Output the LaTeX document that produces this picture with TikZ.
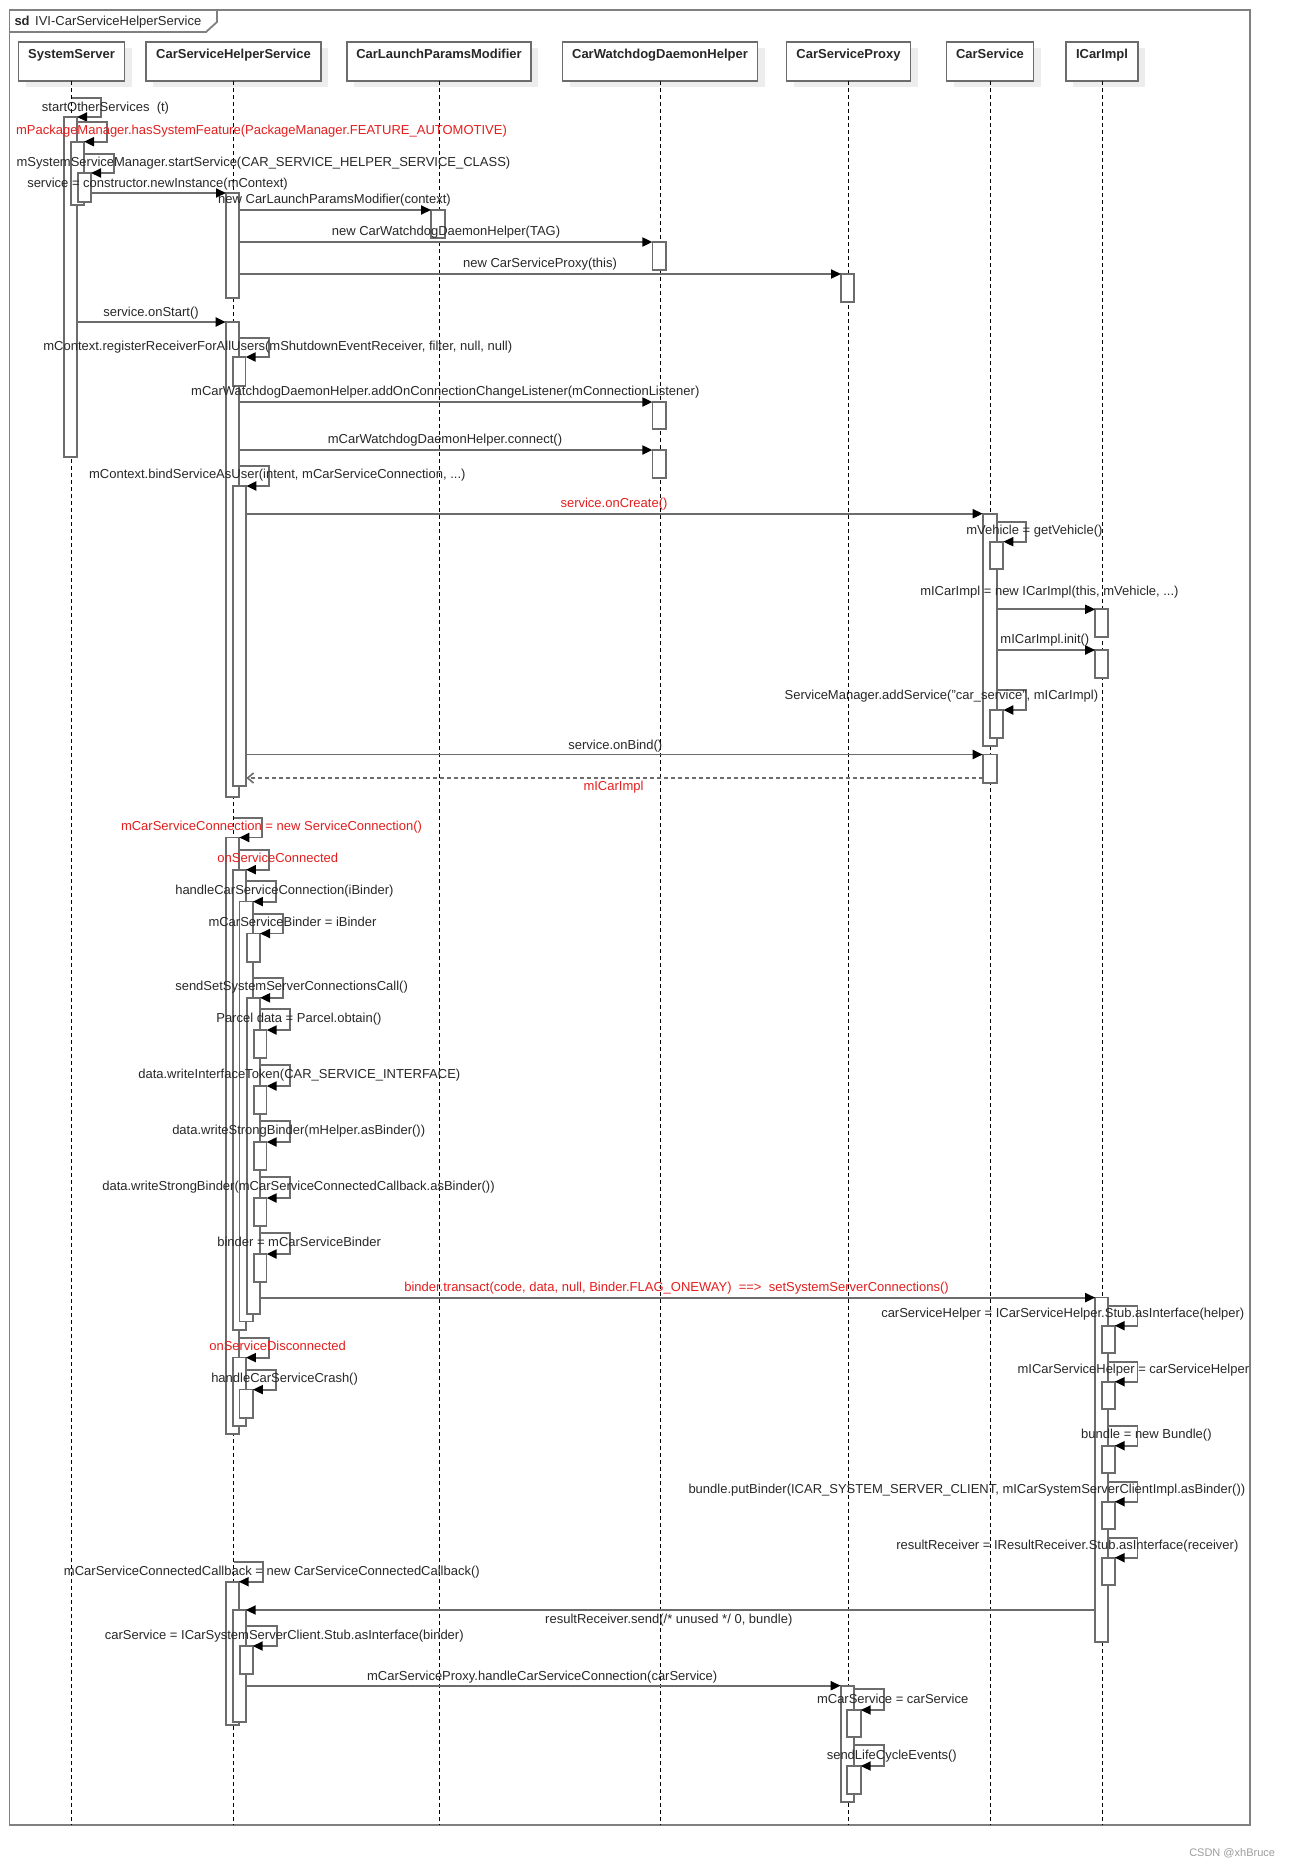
\documentclass[tikz,border=0pt]{standalone}
\usepackage{fontspec}
\setmainfont{Liberation Sans}
\usetikzlibrary{arrows.meta,shadows}
\definecolor{ln}{RGB}{108,108,108}
\definecolor{tx}{RGB}{40,40,40}
\definecolor{rd}{RGB}{228,30,30}
\newcommand\actbar[5]{\node[actb, anchor=north west, minimum width={#4-#2}, minimum height={#5-#3}] (#1) at (#2,#3) {};}
\newcommand\msgarrow[3]{\draw[msgl] (#1.east |- 0,#3) -- (#2.west |- 0,#3);}
\newcommand\loopm[4]{\draw[msgl] (#1 |- 0,#3) -- (#4,#3) |- (#2.north east);}
\newcommand\txtlab[4]{\node[lbl, anchor=base] (#1) at (#2,#3+4.2) {#4};}
\newcommand\redlab[4]{\node[lbl, text=rd, anchor=base] (#1) at (#2,#3+4.2) {#4};}
\begin{document}
\begin{tikzpicture}[x=1pt,y=-1pt,
  font=\fontsize{13}{15}\selectfont,
  head/.style={draw=ln, line width=1.7pt, fill=white, inner sep=0pt, outer sep=0pt,
    text height=17pt, text depth=22.3pt, anchor=north west, text=tx,
    font=\fontsize{13}{15}\selectfont\bfseries,
    drop shadow={shadow xshift=7pt, shadow yshift=-6pt, fill=black!7, opacity=1}},
  actb/.style={draw=ln, line width=1.7pt, fill=white, inner sep=0pt, outer sep=0pt},
  msgl/.style={draw=ln, line width=1.9pt, -{Triangle[length=10pt,width=9pt,color=black]}},
  ret/.style={draw=ln, line width=1.6pt, dash pattern=on 4pt off 3pt, -{Straight Barb[length=6pt,width=10pt]}},
  life/.style={draw=black, line width=0.9pt, dash pattern=on 4pt off 3pt},
  frame/.style={draw=black!50, line width=1.8pt},
  lbl/.style={text=tx, inner sep=0pt, outer sep=0pt}]
\fill[white] (0,0) rectangle (1290,1866);
\useasboundingbox (0,0) rectangle (1290,1866);
% frame
\draw[frame] (9.5,10) rectangle (1250.3,1825);
\draw[frame] (217,10) -- (217,22) -- (206,32) -- (9.5,32);
\node[lbl, anchor=base west] (title) at (14.5,25.3) {\textbf{sd}\hspace{5.5pt}IVI-CarServiceHelperService};
% headers
\node[head, minimum width=106pt] (SS) at (18.5,41.7) {SystemServer};
\node[head, minimum width=175pt] (CSHS) at (146,41.7) {CarServiceHelperService};
\node[head, minimum width=184pt] (CLPM) at (347,41.7) {CarLaunchParamsModifier};
\node[head, minimum width=195pt] (CWDH) at (562.5,41.7) {CarWatchdogDaemonHelper};
\node[head, minimum width=124pt] (CSP) at (786.5,41.7) {CarServiceProxy};
\node[head, minimum width=87pt] (CS) at (946.5,41.7) {CarService};
\node[head, minimum width=71.5pt] (IC) at (1066.25,41.7) {ICarImpl};
% lifelines
\foreach \h in {SS,CSHS,CLPM,CWDH,CSP,CS,IC}{\draw[life] (\h.south) -- (\h.south |- 0,1825);}
% activation bars
\actbar{ss1}{64}{117}{77}{457}
\actbar{ss2}{70.7}{141.7}{84}{205}
\actbar{ss3}{78}{173}{91}{202}
\actbar{h1}{226}{193}{239}{298}
\actbar{lp1}{431}{210}{445}{238}
\actbar{cw1}{652.4}{242}{665.7}{270}
\actbar{px1}{841}{274}{854.3}{302}
\actbar{h2}{225.7}{322}{239.3}{797.3}
\actbar{h3}{232.7}{357}{245.6}{385.7}
\actbar{cw2}{652.4}{402}{665.7}{429}
\actbar{cw3}{652.4}{450}{665.7}{477.7}
\actbar{h4}{232.7}{486}{246.3}{785.7}
\actbar{cs1}{982.7}{513.7}{996.7}{745.7}
\actbar{cs2}{989.7}{541.7}{1003.3}{569.3}
\actbar{ic1}{1095.2}{609.3}{1108}{637.3}
\actbar{ic2}{1095.2}{650}{1108}{677.7}
\actbar{cs3}{989.7}{710}{1003.3}{738}
\actbar{cs4}{982.7}{754.5}{996.7}{783}
\actbar{c1}{225.7}{837.5}{239.3}{1434.3}
\actbar{c2}{232.7}{869.7}{245.9}{1329.8}
\actbar{c3}{239.6}{901.6}{252.9}{1321.6}
\actbar{c4}{246.7}{933.5}{260}{961.7}
\actbar{c5}{246.7}{997.8}{260}{1314}
\actbar{p1}{253.7}{1030}{266.6}{1057.9}
\actbar{p2}{253.7}{1086}{266.6}{1113.8}
\actbar{p3}{253.7}{1142}{266.6}{1169.8}
\actbar{p4}{253.7}{1198}{266.6}{1225.8}
\actbar{p5}{253.7}{1254}{266.6}{1281.7}
\actbar{d1}{232.7}{1357.6}{245.9}{1426}
\actbar{d2}{239.6}{1389.6}{252.9}{1417.7}
\actbar{e0}{1095.2}{1297.6}{1108}{1641.7}
\actbar{e1}{1101.9}{1325.7}{1114.7}{1353.3}
\actbar{e2}{1101.9}{1381.7}{1114.7}{1409.3}
\actbar{e3}{1101.9}{1445.7}{1114.7}{1473.3}
\actbar{e4}{1101.9}{1501.7}{1114.7}{1529.3}
\actbar{e5}{1101.9}{1557.7}{1114.7}{1585}
\actbar{f1}{225.7}{1581.7}{238.7}{1725}
\actbar{f2}{232.7}{1610}{245.7}{1722.3}
\actbar{f3}{239.7}{1646}{252.7}{1674}
\actbar{g1}{840.7}{1685.7}{854.3}{1802.3}
\actbar{g2}{847.3}{1710}{860.7}{1737.3}
\actbar{g3}{847.3}{1766}{860.7}{1794}
% messages
\msgarrow{ss3}{h1}{193}
\msgarrow{h1}{lp1}{210}
\msgarrow{h1}{cw1}{242}
\msgarrow{h1}{px1}{274}
\msgarrow{ss1}{h2}{322}
\msgarrow{h2}{cw2}{402}
\msgarrow{h2}{cw3}{450}
\msgarrow{h4}{cs1}{513.7}
\msgarrow{cs1}{ic1}{609.3}
\msgarrow{cs1}{ic2}{650}
\msgarrow{h4}{cs4}{754.5}
\draw[ret] (cs4.west |- 0,778) -- (h4.east |- 0,778);
\msgarrow{c5}{e0}{1297.6}
\draw[msgl] (e0.west |- 0,1610) -- (f2.east |- 0,1610);
\msgarrow{f2}{g1}{1685.7}
% self messages
\loopm{SS.south}{ss1}{97.7}{101}
\loopm{ss1.east}{ss2}{122.3}{107}
\loopm{ss2.east}{ss3}{154}{113.6}
\loopm{h2.east}{h3}{337.7}{268.6}
\loopm{h2.east}{h4}{465.7}{268.6}
\loopm{cs1.east}{cs2}{522}{1026.4}
\loopm{cs1.east}{cs3}{690}{1026.4}
\loopm{CSHS.south}{c1}{818}{262.4}
\loopm{c1.east}{c2}{849.8}{268.7}
\loopm{c2.east}{c3}{881.3}{275.7}
\loopm{c3.east}{c4}{914}{283.2}
\loopm{c3.east}{c5}{978.3}{283.2}
\loopm{c5.east}{p1}{1009.4}{290.2}
\loopm{c5.east}{p2}{1065.3}{290.2}
\loopm{c5.east}{p3}{1121.3}{290.2}
\loopm{c5.east}{p4}{1177.3}{290.2}
\loopm{c5.east}{p5}{1233.3}{290.2}
\loopm{e0.east}{e1}{1305.7}{1137.5}
\loopm{e0.east}{e2}{1361.7}{1137.5}
\loopm{e0.east}{e3}{1425.7}{1137.5}
\loopm{e0.east}{e4}{1481.7}{1137.5}
\loopm{e0.east}{e5}{1537.7}{1137.5}
\loopm{c1.east}{d1}{1337.7}{268.7}
\loopm{d1.east}{d2}{1370}{275.7}
\loopm{CSHS.south}{f1}{1561.7}{262.7}
\loopm{f2.east}{f3}{1626}{276.7}
\loopm{g1.east}{g2}{1689.3}{884}
\loopm{g1.east}{g3}{1745}{884}
% labels
\txtlab{t1}{105.5}{107}{startOtherServices\ \ (t)}
\redlab{t2}{261.5}{130}{mPackageManager.hasSystemFeature(PackageManager.FEATURE\_AUTOMOTIVE)}
\txtlab{t3}{263.5}{162}{mSystemServiceManager.startService(CAR\_SERVICE\_HELPER\_SERVICE\_CLASS)}
\txtlab{t4}{157.5}{183}{service = constructor.newInstance(mContext)}
\txtlab{t5}{334.5}{199}{new CarLaunchParamsModifier(context)}
\txtlab{t6}{446}{231}{new CarWatchdogDaemonHelper(TAG)}
\txtlab{t7}{540}{263}{new CarServiceProxy(this)}
\txtlab{t8}{151}{312}{service.onStart()}
\txtlab{t9}{277.8}{346.7}{mContext.registerReceiverForAllUsers(mShutdownEventReceiver, filter, null, null)}
\txtlab{t10}{445.3}{391.7}{mCarWatchdogDaemonHelper.addOnConnectionChangeListener(mConnectionListener)}
\txtlab{t11}{445}{439.3}{mCarWatchdogDaemonHelper.connect()}
\txtlab{t12}{277.3}{474.3}{mContext.bindServiceAsUser(intent, mCarServiceConnection, ...)}
\redlab{t13}{614}{503.3}{service.onCreate()}
\txtlab{t14}{1034.4}{530}{mVehicle = getVehicle()}
\txtlab{t15}{1049.4}{591}{mICarImpl = new ICarImpl(this, mVehicle, ...)}
\txtlab{t16}{1044.9}{639.3}{mICarImpl.init()}
\txtlab{t17}{941.4}{695.7}{ServiceManager.addService("car\_service", mICarImpl)}
\txtlab{t18}{615.3}{745}{service.onBind()}
\redlab{t19}{613.5}{786.6}{mICarImpl}
\redlab{t20}{271.5}{826}{mCarServiceConnection = new ServiceConnection()}
\redlab{t21}{277.8}{858.5}{onServiceConnected}
\txtlab{t22}{284.4}{890.4}{handleCarServiceConnection(iBinder)}
\txtlab{t23}{292.5}{922.3}{mCarServiceBinder = iBinder}
\txtlab{t24}{291.6}{986.6}{sendSetSystemServerConnectionsCall()}
\txtlab{t25}{298.9}{1018.5}{Parcel data = Parcel.obtain()}
\txtlab{t26}{299.3}{1074.5}{data.writeInterfaceToken(CAR\_SERVICE\_INTERFACE)}
\txtlab{t27}{298.7}{1130.4}{data.writeStrongBinder(mHelper.asBinder())}
\txtlab{t28}{298.5}{1186.4}{data.writeStrongBinder(mCarServiceConnectedCallback.asBinder())}
\txtlab{t29}{299.1}{1242.4}{binder = mCarServiceBinder}
\redlab{t30}{676.5}{1287}{binder.transact(code, data, null, Binder.FLAG\_ONEWAY)\ \ ==>\ \ setSystemServerConnections()}
\txtlab{t31}{1062.8}{1313.3}{carServiceHelper = ICarServiceHelper.Stub.asInterface(helper)}
\txtlab{t32}{1133.4}{1369.3}{mICarServiceHelper = carServiceHelper}
\txtlab{t33}{1146.4}{1434.3}{bundle = new Bundle()}
\txtlab{t34}{966.9}{1489.3}{bundle.putBinder(ICAR\_SYSTEM\_SERVER\_CLIENT, mICarSystemServerClientImpl.asBinder())}
\txtlab{t35}{1067.3}{1545.7}{resultReceiver = IResultReceiver.Stub.asInterface(receiver)}
\redlab{t36}{277.6}{1346.4}{onServiceDisconnected}
\txtlab{t37}{284.6}{1378.4}{handleCarServiceCrash()}
\txtlab{t38}{271.9}{1571}{mCarServiceConnectedCallback = new CarServiceConnectedCallback()}
\txtlab{t39}{668.8}{1619.3}{resultReceiver.send(/* unused */ 0, bundle)}
\txtlab{t40}{284.3}{1635}{carService = ICarSystemServerClient.Stub.asInterface(binder)}
\txtlab{t41}{542.2}{1676}{mCarServiceProxy.handleCarServiceConnection(carService)}
\txtlab{t42}{892.7}{1699}{mCarService = carService}
\txtlab{t43}{891.8}{1755}{sendLifeCycleEvents()}
\node[lbl, text=black!38, anchor=base east, font=\fontsize{11}{13}\selectfont] (wm) at (1275,1856.5) {CSDN @xhBruce};
\end{tikzpicture}
\end{document}
